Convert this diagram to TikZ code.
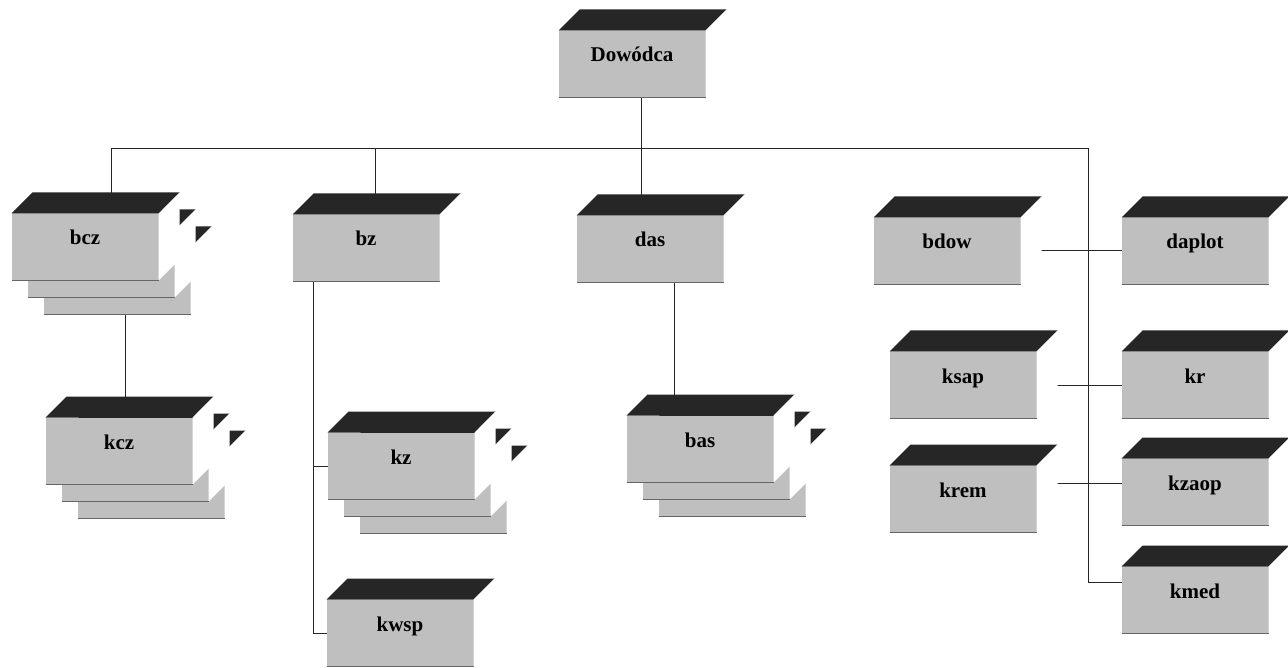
\documentclass[tikz,border=0pt]{standalone}
\usepackage{fontspec}
\setmainfont{Liberation Serif}
\usetikzlibrary{calc,backgrounds}

\tikzset{
  front/.style={fill=black!25,minimum width=147pt,minimum height=67pt,
    inner sep=0pt,outer sep=0pt,
    font=\fontsize{21}{25}\selectfont\bfseries,
    text height=14pt,text depth=18pt},
  topface/.style={fill=black!85},
  sideface/.style={fill=white},
  edgeline/.style={black!60,line width=1.2pt},
  link/.style={black!85,line width=1pt}
}

% one box: front, dark top, white side
\newcommand\orgbox[3]{%
  \node[front] (#1) at (#2) {#3};
  \fill[topface] (#1.north west) -- ++(21,-21)
    -- ([shift={(21,-21)}]#1.north east) -- (#1.north east) -- cycle;
  \fill[sideface] (#1.north east) -- ++(21,-21)
    -- ([shift={(21,-21)}]#1.south east) -- (#1.south east) -- cycle;
  \draw[edgeline] (#1.south west) -- (#1.south east);
}
% three boxes one behind the other
\newcommand\orgstack[3]{%
  \orgbox{#1b}{$(#2)+(32,34)$}{}
  \orgbox{#1a}{$(#2)+(16,17)$}{}
  \orgbox{#1}{#2}{#3}
}

\begin{document}
\begin{tikzpicture}[x=1pt,y=-1pt]
\useasboundingbox (0,0) rectangle (1288,668);
% top
\orgbox{dowodca}{632,64}{Dowódca}
% first row
\orgstack{bcz}{85,247}{bcz}
\orgbox{bz}{366,248}{bz}
\orgbox{das}{650,249}{das}
\orgbox{bdow}{947,251}{bdow}
\orgbox{daplot}{1195,251}{daplot}
% second row
\orgstack{kcz}{119,451}{kcz}
\orgstack{kz}{401,466}{kz}
\orgstack{bas}{700,449}{bas}
\orgbox{kwsp}{400,633}{kwsp}
% right side
\orgbox{ksap}{963,385}{ksap}
\orgbox{kr}{1195,385}{kr}
\orgbox{krem}{963,499}{krem}
\orgbox{kzaop}{1195,492}{kzaop}
\orgbox{kmed}{1195,600}{kmed}

\begin{scope}[on background layer]
\coordinate (bus) at (641,149);
\coordinate (busR) at (1088,149);
\draw[link] ([xshift=9]dowodca.south) -- (bus);
\draw[link] ([xshift=26]bcz.north) |- (busR) |- ([yshift=18]kmed.west);
\draw[link] ([xshift=9]bz.north) -- ([xshift=9]bz.north |- bus);
\draw[link] ([xshift=-9]das.north) -- (bus);
% down the columns
\draw[link] ([xshift=40]bcz.south) -- ([xshift=6]kcz.north);
\coordinate (bzline) at ([xshift=-53]bz.south);
\draw[link] (bzline) |- (kwsp.west);
\draw[link] (bzline |- kz.west) -- (kz.west);
\draw[link] ([xshift=24]das.south) -- ([xshift=-26]bas.north);
% right pairs
\draw[link] (bdow.east) -- (daplot.west);
\draw[link] (ksap.east) -- (kr.west);
\draw[link] ([yshift=16]krem.east) -- ([yshift=9]kzaop.west);
\end{scope}
\end{tikzpicture}
\end{document}
